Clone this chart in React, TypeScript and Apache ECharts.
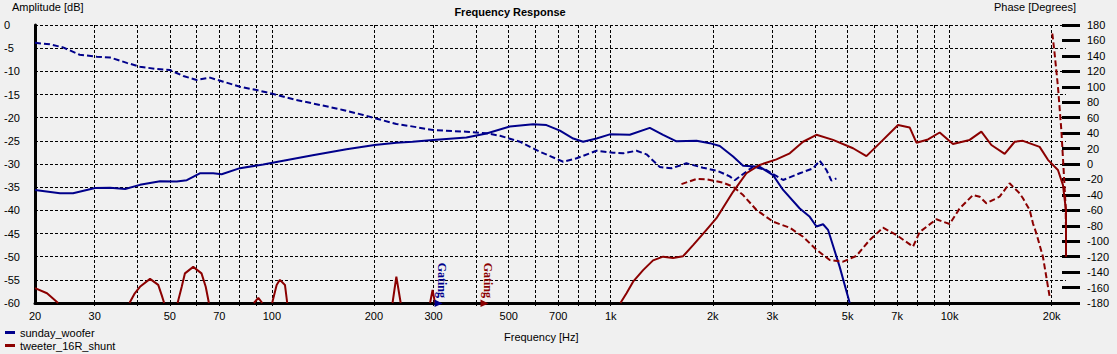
import React, { useEffect, useRef } from "react";
import * as echarts from "echarts";

// ---------- axis ticks ----------
const xGridValues = [
  30, 40, 50, 60, 70, 80, 90, 100, 200, 300, 400, 500, 600, 700, 800, 900,
  1000, 2000, 3000, 4000, 5000, 6000, 7000, 8000, 9000, 10000, 20000,
];
const xLabelValues = [20, 30, 50, 70, 100, 200, 300, 500, 700, 1000, 2000, 3000, 5000, 7000, 10000, 20000];

// ---------- sunday_woofer magnitude (dB) ----------
const wMagF = [
  20, 23.7, 25.9, 30.1, 33.3, 36.9, 40.8, 46.8, 52.4, 56.1, 61.3, 67.1, 71.1, 80.5, 94.3, 108, 132, 166,
  201, 233, 260, 299, 375, 430, 504, 590, 646, 708, 775, 829, 908, 994, 1138, 1304, 1427, 1563, 1791,
  1960, 2098, 2296, 2458, 2752, 3013, 3226, 3612, 3866, 4046, 4232, 4377, 4738, 5072,
];
const wMagDb = [
  -35.6, -36.3, -36.3, -35.2, -35.1, -35.4, -34.5, -33.7, -33.8, -33.5, -32.0, -32.0, -32.2, -30.9, -30.1,
  -29.3, -28.1, -26.8, -25.9, -25.4, -25.2, -24.8, -24.3, -23.4, -21.9, -21.4, -21.6, -22.8, -24.5, -25.2,
  -24.5, -23.6, -23.7, -22.2, -23.7, -25.1, -25.0, -25.5, -26.1, -28.4, -30.4, -30.6, -32.4, -35.6, -39.6,
  -41.4, -43.5, -43.0, -44.2, -52.2, -60,
];

// ---------- sunday_woofer phase (deg) ----------
const wPhF = [
  20, 22.1, 24.2, 27.1, 30.4, 33.3, 37.3, 40.8, 45.7, 50, 54.8, 60, 65.7, 71.9, 80.5, 90.2, 101, 118, 139,
  162, 186, 204, 233, 255, 299, 375, 430, 471, 539, 618, 724, 793, 908, 1016, 1088, 1191, 1275, 1396, 1510,
  1672, 1872, 2069, 2244, 2323, 2630, 2880, 3226, 3612, 3954, 4138, 4330, 4478, 4634,
];
const wPhDeg = [
  157, 155, 151, 141.5, 139, 138, 131, 126, 123, 121.7, 114, 108.8, 111.8, 106.6, 100, 95.8, 90.6, 83,
  76.4, 70, 63.5, 58.7, 51.8, 49.2, 44, 41.8, 39.7, 36.6, 28.9, 15.9, 2.9, 7.4, 17.2, 14.6, 13.8, 17.2,
  12.5, -4, -5.6, 0.9, -4.8, -9, -16, -21, -3.5, -7.8, -20.7, -12, -5.6, 4.3, -7.8, -21.6, -18.5,
];

// ---------- tweeter_16R_shunt magnitude (dB); null = gap ----------
const tMagF = [
  20, 21.7, 23.4, 30,
  38.0, 39.4, 40.8, 43.7, 46.2, 47.3, 48.1, 50,
  52.7, 54.2, 55.4, 58.6, 62.0, 63.8, 65.2, 75,
  88.5, 91.2, 93.7, 96,
  100.2, 103.3, 105.6, 109.3, 111, 150,
  227, 233, 240, 260,
  293, 298, 303, 600,
  1068, 1113, 1164, 1246, 1333, 1427, 1527, 1635, 1750, 1916, 2051, 2296, 2514, 2752, 3083, 3375, 3694,
  4046, 4528, 5188, 5681, 6220, 7043, 7622, 7981, 8634, 9348, 10228, 11458, 12406, 13279, 14536, 15560,
  16458, 18436, 19504, 20876, 21594, 22050, 22050,
];
const tMagDb = [
  -56.8, -57.9, -60, null,
  -60, -57.9, -56.5, -54.8, -56.1, -58.3, -60, null,
  -60, -56.5, -53.6, -52.2, -53.6, -56.5, -60, null,
  -60, -58.9, -60, null,
  -60, -56.1, -55.0, -56.1, -60, null,
  -60, -54.3, -60, null,
  -60, -57.2, -60, null,
  -60, -57.9, -55.4, -52.9, -50.8, -50.0, -50.3, -49.9, -47.5, -44.2, -41.7, -36.0, -32.0, -30.2, -29.0,
  -27.7, -25.2, -23.7, -24.8, -26.6, -28.3, -25.5, -21.6, -22.1, -25.4, -24.7, -23.2, -25.7, -24.8, -23.0,
  -25.9, -27.8, -25.2, -25.0, -26.3, -29.1, -31.3, -34.5, -40, -50,
];

// ---------- tweeter_16R_shunt phase (deg); null = wrap ----------
const tPhF = [
  1617, 1791, 1916, 2146, 2296, 2458, 2692, 3013, 3375, 3694, 4046, 4428, 4846, 5307, 5808, 6361, 6966,
  7797, 8161, 9140, 10002, 10708, 11720, 12266, 12834, 14048, 15032, 16088, 16458, 17226, 17614, 18024,
  18850, 19730, 19900, 20094, 20410, 20876, 21362, 21700, 21994, 22050,
];
const tPhDeg = [
  -26, -19.4, -19.8, -24.2, -29.4, -40.2, -59.6, -74.7, -82.5, -94.2, -111, -124.4, -126.5, -119, -98.4,
  -82.5, -91.9, -107, -88, -71.6, -77.7, -57.4, -40.2, -42.3, -50.9, -42.3, -25, -37.9, -44.4, -59.6,
  -76.8, -89.8, -120, -171.8, null, 169, 143, 100, 44, -8, -55, -90,
];

// ---------- gating markers ----------
const gateFreqs = [300, 410];

const BLUE = "#00008b";
const RED = "#8b0000";
const FONT = '"Liberation Sans", Arial, sans-serif';

const pairs = (f: number[], v: (number | null)[]) =>
  f.map((x, i) => (v[i] === null ? [x, "-"] : [x, v[i]]));

export default function App() {
  const ref = useRef<HTMLDivElement>(null);
  useEffect(() => {
    if (!ref.current) return;
    const chart = echarts.init(ref.current, null, { renderer: "svg" });
    const gridDash = { color: "#000", width: 1, type: [3, 2] as number[] };
    chart.setOption({
      animation: false,
      backgroundColor: "#f0f0f0",
      textStyle: { fontFamily: FONT },
      grid: { left: 35, right: 51, top: 25, bottom: 51, containLabel: false },
      legend: {
        data: ["sunday_woofer", "tweeter_16R_shunt"],
        orient: "vertical",
        left: 5,
        top: 327,
        padding: 0,
        itemWidth: 10,
        itemHeight: 3,
        itemGap: 2,
        icon: "rect",
        selectedMode: false,
        textStyle: { fontSize: 11, color: "#000", fontFamily: FONT, lineHeight: 11 },
      },
      xAxis: {
        type: "log",
        logBase: 10,
        min: 20,
        max: 22050,
        axisLine: { onZero: false, lineStyle: { color: "#000", width: 3 } },
        axisTick: { show: true, customValues: xGridValues, length: 5, lineStyle: gridDash },
        axisLabel: {
          customValues: xLabelValues,
          formatter: (v: number) => (v >= 1000 ? Math.round(v / 1000) + "k" : String(Math.round(v))),
          margin: 7,
          fontSize: 11,
          color: "#000",
          fontFamily: FONT,
        },
        splitLine: { show: false },
        minorTick: { show: false },
        minorSplitLine: { show: false },
      },
      yAxis: [
        {
          type: "value",
          min: -60,
          max: 0,
          interval: 5,
          axisLine: { show: true, onZero: false, lineStyle: { color: "#000", width: 3 } },
          axisTick: { show: false },
          axisLabel: { align: "left", margin: 31, fontSize: 11, color: "#000", fontFamily: FONT },
          splitLine: { show: true, lineStyle: gridDash },
        },
        {
          type: "value",
          position: "right",
          min: -180,
          max: 180,
          interval: 20,
          offset: -4,
          axisLine: { show: false },
          axisTick: { show: true, length: 18, lineStyle: { color: "#000", width: 3 } },
          axisLabel: { margin: 25, fontSize: 11, color: "#000", fontFamily: FONT },
          splitLine: { show: false },
        },
      ],
      series: [
        {
          name: "sunday_woofer",
          type: "line",
          data: pairs(wMagF, wMagDb),
          showSymbol: false,
          symbol: "none",
          lineStyle: { color: BLUE, width: 2 },
          itemStyle: { color: BLUE },
          z: 3,
          markLine: {
            silent: true,
            symbol: "none",
            z: 1,
            animation: false,
            label: { show: false },
            emphasis: { disabled: true },
            lineStyle: { color: "#000", width: 1, type: [3, 2] },
            data: xGridValues.map((v) => ({ xAxis: v })),
          },
        },
        {
          name: "sunday_woofer",
          type: "line",
          yAxisIndex: 1,
          data: pairs(wPhF, wPhDeg),
          showSymbol: false,
          symbol: "none",
          lineStyle: { color: BLUE, width: 2, type: [6, 3] },
          itemStyle: { color: BLUE },
          z: 3,
        },
        {
          name: "tweeter_16R_shunt",
          type: "line",
          data: pairs(tMagF, tMagDb),
          showSymbol: false,
          symbol: "none",
          connectNulls: false,
          lineStyle: { color: RED, width: 2 },
          itemStyle: { color: RED },
          z: 3,
        },
        {
          name: "tweeter_16R_shunt",
          type: "line",
          yAxisIndex: 1,
          data: pairs(tPhF, tPhDeg),
          showSymbol: false,
          symbol: "none",
          connectNulls: false,
          lineStyle: { color: RED, width: 2, type: [6, 3] },
          itemStyle: { color: RED },
          z: 3,
        },
      ],
    });

    const gateColors = [BLUE, RED];
    const gateEls: any[] = [];
    gateFreqs.forEach((f, i) => {
      const p = chart.convertToPixel({ xAxisIndex: 0, yAxisIndex: 0 }, [f, -60]) as number[];
      gateEls.push({
        type: "polygon",
        shape: { points: [[p[0] + 1, p[1] - 3.5], [p[0] + 9, p[1] + 0.5], [p[0] + 1, p[1] + 4]] },
        style: { fill: gateColors[i] },
        z: 10,
      });
      gateEls.push({
        type: "text",
        x: p[0] + 8,
        y: p[1] - 5,
        rotation: -Math.PI / 2,
        style: {
          text: "Gating",
          fill: gateColors[i],
          font: 'bold 12px "Liberation Serif", serif',
          align: "right",
          verticalAlign: "middle",
        },
        z: 10,
      });
    });

    chart.setOption({
      graphic: {
        elements: [
          {
            type: "text",
            x: 12,
            y: 7,
            style: { text: "Amplitude [dB]", fill: "#000", font: "11px " + FONT, verticalAlign: "middle" },
          },
          {
            type: "text",
            x: 994,
            y: 7,
            style: { text: "Phase [Degrees]", fill: "#000", font: "11px " + FONT, verticalAlign: "middle" },
          },
          {
            type: "text",
            x: 510,
            y: 12,
            style: {
              text: "Frequency Response",
              fill: "#000",
              font: "bold 11px " + FONT,
              align: "center",
              verticalAlign: "middle",
            },
          },
          {
            type: "text",
            x: 504,
            y: 337,
            style: { text: "Frequency [Hz]", fill: "#000", font: "11px " + FONT, verticalAlign: "middle" },
          },
          ...gateEls,
        ],
      },
    });

    return () => chart.dispose();
  }, []);

  return (
    <div
      ref={ref}
      style={{ position: "fixed", left: 0, top: 0, width: 1117, height: 354, background: "#f0f0f0" }}
    />
  );
}
